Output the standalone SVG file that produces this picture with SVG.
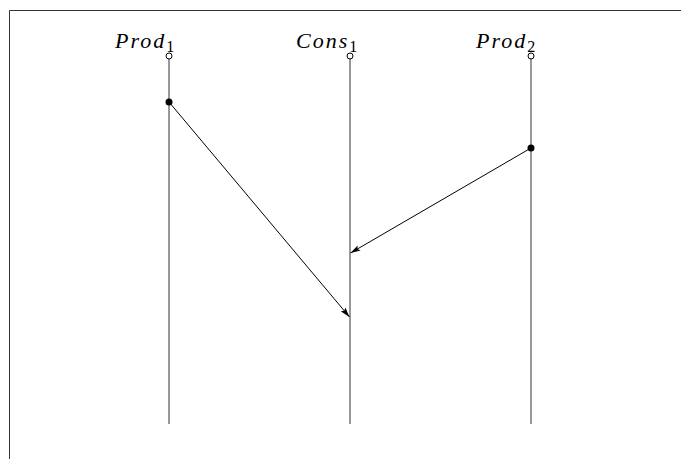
<svg xmlns="http://www.w3.org/2000/svg" width="681" height="459" viewBox="0 0 681 459">
<defs>
<style>
.life{stroke:#333;stroke-width:1;fill:none}
.msg{stroke:#000;stroke-width:1;fill:none}
.lbl{font-family:"Liberation Serif","DejaVu Serif",serif;font-style:italic;font-size:22px;fill:#000;letter-spacing:2px}
.sub{font-style:normal;font-size:16px;letter-spacing:0}
.start{fill:#fff;stroke:#000;stroke-width:1}
.dot{fill:#000}
</style>
<marker id="ah" viewBox="0 0 10 6" refX="10" refY="3" markerWidth="10" markerHeight="6" markerUnits="userSpaceOnUse" orient="auto">
<path d="M0,0 L10,3 L0,6 L2,3 Z" fill="#000"/>
</marker>
</defs>
<rect width="681" height="459" fill="#fff"/>
<path d="M9.5,459 V10.5 H681" fill="none" stroke="#333" stroke-width="1"/>
<g id="prod1">
<text class="lbl" x="115" y="48">Prod<tspan class="sub" dy="4">1</tspan></text>
<line class="life" x1="169" y1="59" x2="169" y2="424"/>
<circle class="start" cx="169" cy="56" r="3"/>
<circle class="dot" cx="169" cy="102" r="3.5"/>
</g>
<g id="cons1">
<text class="lbl" x="296" y="48">Cons<tspan class="sub" dy="4">1</tspan></text>
<line class="life" x1="350" y1="59" x2="350" y2="424"/>
<circle class="start" cx="350" cy="56" r="3"/>
</g>
<g id="prod2">
<text class="lbl" x="476" y="48">Prod<tspan class="sub" dy="4">2</tspan></text>
<line class="life" x1="531" y1="59" x2="531" y2="424"/>
<circle class="start" cx="531" cy="56" r="3"/>
<circle class="dot" cx="531" cy="148" r="3.5"/>
</g>
<g id="connectors">
<line class="msg" x1="169" y1="102" x2="349.5" y2="317" marker-end="url(#ah)"/>
<line class="msg" x1="531" y1="148" x2="350.5" y2="253" marker-end="url(#ah)"/>
</g>
</svg>
